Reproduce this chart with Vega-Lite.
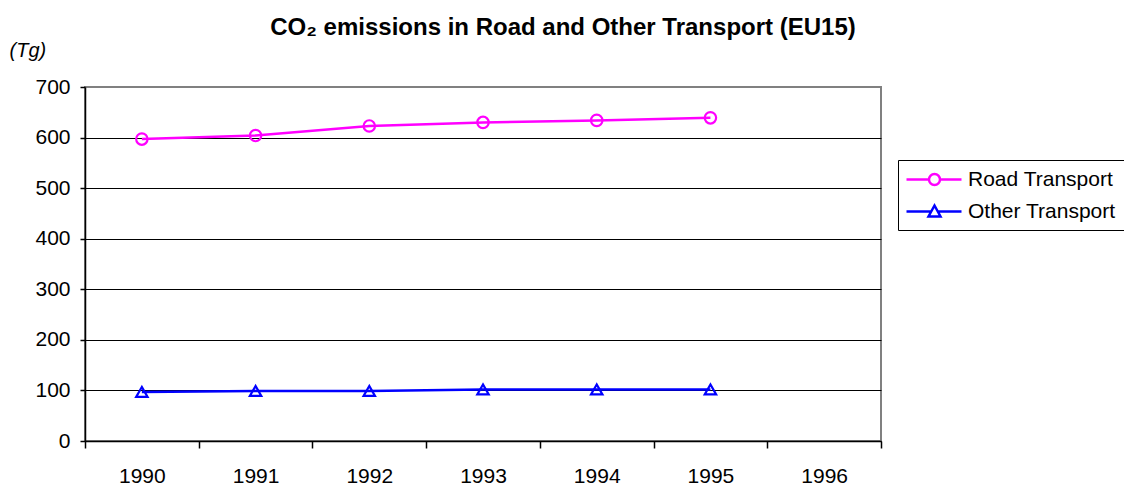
{
  "$schema": "https://vega.github.io/schema/vega-lite/v6.json",
  "width": 796,
  "height": 354,
  "autosize": {"type": "none"},
  "padding": {"left": 85, "top": 87, "right": 243, "bottom": 46},
  "background": "white",
  "title": {
    "text": "CO₂ emissions in Road and Other Transport (EU15)",
    "font": "Liberation Sans",
    "fontSize": 24,
    "fontWeight": "bold",
    "color": "black",
    "anchor": "middle",
    "dx": 80,
    "baseline": "alphabetic",
    "offset": -19
  },
  "config": {
    "font": "Liberation Sans",
    "view": {"stroke": "#808080", "strokeWidth": 2},
    "axis": {
      "labelFont": "Liberation Sans",
      "labelColor": "black",
      "domainColor": "black",
      "tickColor": "black",
      "domainWidth": 1.5,
      "tickWidth": 1.5
    }
  },
  "data": {
    "values": [
      {"year": "1990", "series": "Road Transport", "value": 597},
      {"year": "1991", "series": "Road Transport", "value": 604},
      {"year": "1992", "series": "Road Transport", "value": 623},
      {"year": "1993", "series": "Road Transport", "value": 630},
      {"year": "1994", "series": "Road Transport", "value": 634},
      {"year": "1995", "series": "Road Transport", "value": 639},
      {"year": "1990", "series": "Other Transport", "value": 97},
      {"year": "1991", "series": "Other Transport", "value": 99},
      {"year": "1992", "series": "Other Transport", "value": 99},
      {"year": "1993", "series": "Other Transport", "value": 102},
      {"year": "1994", "series": "Other Transport", "value": 102},
      {"year": "1995", "series": "Other Transport", "value": 102}
    ]
  },
  "encoding": {
    "x": {
      "field": "year",
      "type": "nominal",
      "sort": null,
      "scale": {
        "type": "band",
        "domain": ["1990", "1991", "1992", "1993", "1994", "1995", "1996"],
        "paddingInner": 0,
        "paddingOuter": 0
      },
      "axis": {
        "title": null,
        "labelAngle": 0,
        "labelFontSize": 21,
        "labelPadding": 17,
        "tickBand": "extent",
        "tickSize": 7,
        "grid": false
      }
    },
    "y": {
      "field": "value",
      "type": "quantitative",
      "scale": {"domain": [0, 700], "nice": false},
      "axis": {
        "values": [0, 100, 200, 300, 400, 500, 600, 700],
        "labelFontSize": 21,
        "labelPadding": 10,
        "tickSize": 5,
        "grid": true,
        "gridColor": {"condition": {"test": "datum.value === 700", "value": "#808080"}, "value": "black"},
        "gridOpacity": 1,
        "gridWidth": 1,
        "title": "(Tg)",
        "titleAngle": 0,
        "titleAlign": "left",
        "titleBaseline": "middle",
        "titleX": -76,
        "titleY": -37,
        "titleFont": "Liberation Sans",
        "titleFontSize": 20,
        "titleFontStyle": "italic",
        "titleFontWeight": "normal",
        "titleColor": "black"
      }
    },
    "color": {
      "field": "series",
      "type": "nominal",
      "scale": {"domain": ["Road Transport", "Other Transport"], "range": ["#FF00FF", "#0000FF"]},
      "legend": {
        "orient": "none",
        "legendX": 813,
        "legendY": 73,
        "title": null,
        "strokeColor": "black",
        "fillColor": "white",
        "padding": 8,
        "symbolSize": 400,
        "symbolStrokeWidth": 2.5,
        "labelFont": "Liberation Sans",
        "labelFontSize": 21,
        "labelColor": "black",
        "labelOffset": 39,
        "rowPadding": 10,
        "encode": {
          "symbols": {
            "update": {
              "shape": [
                {"test": "datum.label === 'Road Transport'", "value": "M-1.1,0H1.15M2.25,0H4.4M1.15,0A0.55,0.55 0 1,0 2.25,0A0.55,0.55 0 1,0 1.15,0Z"},
                {"value": "M-1.1,0H1.37M2.03,0H4.4M1.7,-0.6L2.3,0.5H1.1Z"}
              ],
              "fill": {"value": "white"},
              "stroke": {"scale": "color", "field": "value"},
              "strokeWidth": {"value": 2.5}
            }
          }
        }
      }
    }
  },
  "layer": [
    {
      "mark": {"type": "line", "strokeWidth": 2.5}
    },
    {
      "transform": [{"filter": "datum.series === 'Road Transport'"}],
      "mark": {"type": "point", "shape": "circle", "filled": false, "strokeWidth": 2.2, "size": 130, "opacity": 1}
    },
    {
      "transform": [{"filter": "datum.series === 'Other Transport'"}],
      "mark": {"type": "point", "shape": "triangle-up", "filled": false, "strokeWidth": 2.2, "size": 130, "opacity": 1}
    }
  ]
}
